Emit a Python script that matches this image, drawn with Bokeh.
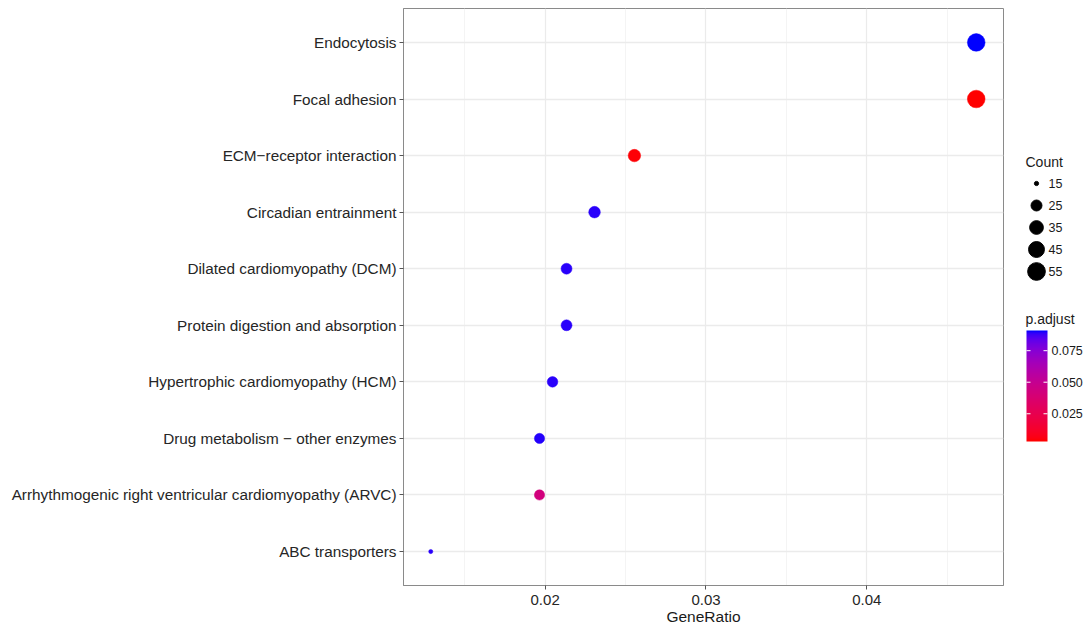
import numpy as np
from bokeh.plotting import figure
from bokeh.models import (ColumnDataSource, Range1d, FactorRange, FixedTicker,
                          LinearColorMapper, NumeralTickFormatter)
from bokeh.layouts import row
from bokeh.core.properties import value
from bokeh.embed import file_html
from bokeh.resources import INLINE

# ---------------- data ----------------
categories = [
    "Endocytosis",
    "Focal adhesion",
    "ECM\u2212receptor interaction",
    "Circadian entrainment",
    "Dilated cardiomyopathy (DCM)",
    "Protein digestion and absorption",
    "Hypertrophic cardiomyopathy (HCM)",
    "Drug metabolism \u2212 other enzymes",
    "Arrhythmogenic right ventricular cardiomyopathy (ARVC)",
    "ABC transporters",
]
gene_ratio = [0.0468, 0.0468, 0.02555, 0.02307, 0.02133, 0.02133, 0.02046, 0.01965, 0.01965, 0.01289]
counts = [55, 55, 30, 27, 25, 25, 24, 23, 23, 15]
p_adjust = [0.091, 0.003, 0.004, 0.0895, 0.0893, 0.0895, 0.0893, 0.0897, 0.042, 0.0893]

x_ticks = [0.02, 0.03, 0.04]
x_minor_ticks = [0.015, 0.025, 0.035, 0.045]
legend_counts = [15, 25, 35, 45, 55]
cbar_ticks = [0.025, 0.050, 0.075]
cbar_labels = ["0.025", "0.050", "0.075"]

FONT = "Liberation Sans"

# ---------------- colour scale (Lab interpolation red -> blue) ----------------
M = np.array([[0.4124564, 0.3575761, 0.1804375],
              [0.2126729, 0.7151522, 0.0721750],
              [0.0193339, 0.1191920, 0.9503041]])
Minv = np.linalg.inv(M)
WHITE = np.array([0.95047, 1.0, 1.08883])


def rgb_to_lab(rgb):
    c = np.array(rgb, dtype=float) / 255.0
    lin = np.where(c <= 0.04045, c / 12.92, ((c + 0.055) / 1.055) ** 2.4)
    xyz = M @ lin / WHITE
    f = np.where(xyz > 0.008856, np.cbrt(xyz), 7.787 * xyz + 16 / 116)
    return np.array([116 * f[1] - 16, 500 * (f[0] - f[1]), 200 * (f[1] - f[2])])


def lab_to_hex(lab):
    L, a, b = lab
    fy = (L + 16) / 116
    fx = fy + a / 500
    fz = fy - b / 200
    f = np.array([fx, fy, fz])
    xyz = np.where(f ** 3 > 0.008856, f ** 3, (f - 16 / 116) / 7.787) * WHITE
    lin = np.clip(Minv @ xyz, 0, 1)
    c = np.where(lin <= 0.0031308, 12.92 * lin, 1.055 * lin ** (1 / 2.4) - 0.055)
    c = np.clip(np.round(c * 255), 0, 255).astype(int)
    return "#%02x%02x%02x" % tuple(c)


lab_lo = rgb_to_lab((255, 0, 0))
lab_hi = rgb_to_lab((0, 0, 255))
palette = [lab_to_hex(lab_lo + t * (lab_hi - lab_lo)) for t in np.linspace(0, 1, 256)]
p_lo, p_hi = min(p_adjust), max(p_adjust)
mapper = LinearColorMapper(palette=palette, low=p_lo, high=p_hi)

# size scale (area-like, as ggplot's scale_size)
cmin, cmax = min(legend_counts), max(legend_counts)


def dot_size(c):
    return 2.7 * (1 + 5 * np.sqrt((np.asarray(c, float) - cmin) / (cmax - cmin))) + 1.5


source = ColumnDataSource(dict(cat=categories, x=gene_ratio, count=counts,
                               p=p_adjust, size=dot_size(counts)))

# ---------------- main panel ----------------
xspan = max(gene_ratio) - min(gene_ratio)
x_lo = min(gene_ratio) - 0.05 * xspan
x_hi = max(gene_ratio) + 0.05 * xspan

H = 627
FRAME_TOP, FRAME_BOT = 8, 585
p = figure(width=1008, height=H,
           x_range=Range1d(x_lo, x_hi),
           y_range=FactorRange(factors=categories[::-1], range_padding=0.1,
                               range_padding_units="absolute"),
           output_backend="svg", toolbar_location=None,
           min_border_left=403, min_border_right=5,
           min_border_top=FRAME_TOP, min_border_bottom=0)

p.scatter(x="x", y="cat", size="size", source=source,
          fill_color={"field": "p", "transform": mapper},
          line_color={"field": "p", "transform": mapper}, line_width=0.5)

p.background_fill_color = "white"
p.outline_line_color = "#8a8a8a"
p.outline_line_width = 1

p.xaxis.ticker = FixedTicker(ticks=x_ticks, minor_ticks=x_minor_ticks)
p.xaxis.formatter = NumeralTickFormatter(format="0.00")
p.xgrid.ticker = FixedTicker(ticks=x_ticks, minor_ticks=x_minor_ticks)
p.xgrid.grid_line_color = "#ebebeb"
p.xgrid.grid_line_width = 1.2
p.xgrid.minor_grid_line_color = "#f4f4f4"
p.xgrid.minor_grid_line_width = 1
p.ygrid.grid_line_color = "#ebebeb"
p.ygrid.grid_line_width = 1.6

p.xaxis.axis_label = "GeneRatio"
for ax in (p.xaxis, p.yaxis):
    ax.axis_line_color = "#8a8a8a"
    ax.major_tick_line_color = "#555555"
    ax.major_tick_out = 4
    ax.major_tick_in = 0
    ax.minor_tick_line_color = None
    ax.major_label_text_font = FONT
    ax.major_label_text_color = "#262626"
    ax.axis_label_text_font = FONT
    ax.axis_label_text_font_size = "15.5px"
    ax.axis_label_text_font_style = "normal"
    ax.axis_label_text_color = "#1a1a1a"
p.yaxis.major_label_text_font_size = "15.3px"
p.xaxis.major_label_text_font_size = "15px"
p.xaxis.major_label_standoff = 5
p.xaxis.axis_label_standoff = 0
p.yaxis.major_label_standoff = 3

# ---------------- legend panel (data y = H - page y) ----------------
LX = 1008
LW = 1084 - LX
lg = figure(width=LW, height=H, x_range=Range1d(0, LW),
            y_range=Range1d(H - FRAME_BOT, H - FRAME_TOP),
            x_axis_type=None, y_axis_type=None, output_backend="svg",
            toolbar_location=None, min_border_left=0, min_border_right=0,
            min_border_top=FRAME_TOP, min_border_bottom=H - FRAME_BOT)
lg.outline_line_color = None
lg.grid.visible = False

TXT = dict(text_font=value(FONT), text_baseline="middle", text_align="left",
           text_color="#1a1a1a")

# Count legend
row_y = [H - (183 + 22 * i) for i in range(len(legend_counts))]
leg_src = ColumnDataSource(dict(x=[1036 - LX] * len(legend_counts), y=row_y,
                                size=dot_size(legend_counts),
                                lab=[str(c) for c in legend_counts],
                                tx=[1048 - LX] * len(legend_counts)))
lg.scatter(x="x", y="y", size="size", source=leg_src, fill_color="black", line_color="black")
lg.text(x="tx", y="y", text="lab", source=leg_src, text_font_size="12.5px", **TXT)
lg.text(x=[1025 - LX], y=[H - 161], text=["Count"], text_font_size="14px", **TXT)

# p.adjust colour bar
bar_x0, bar_w = 1026 - LX, 21
bar_top, bar_bot = 330, 441
bar_h = bar_bot - bar_top
grad = np.linspace(p_lo, p_hi, 200).reshape(-1, 1)
lg.image(image=[grad], x=bar_x0, y=H - bar_bot, dw=bar_w, dh=bar_h, color_mapper=mapper)
tick_y = [H - bar_bot + (v - p_lo) / (p_hi - p_lo) * bar_h for v in cbar_ticks]
lg.segment(x0=[bar_x0] * 3, x1=[bar_x0 + 4] * 3, y0=tick_y, y1=tick_y,
           line_color="white", line_width=1)
lg.segment(x0=[bar_x0 + bar_w - 4] * 3, x1=[bar_x0 + bar_w] * 3, y0=tick_y, y1=tick_y,
           line_color="white", line_width=1)
lg.text(x=[bar_x0 + bar_w + 4] * 3, y=tick_y, text=cbar_labels, text_font_size="12.5px", **TXT)
lg.text(x=[1025 - LX], y=[H - 318], text=["p.adjust"], text_font_size="14px", **TXT)

layout = row(p, lg)
open("out.html", "w").write(file_html(layout, INLINE))
